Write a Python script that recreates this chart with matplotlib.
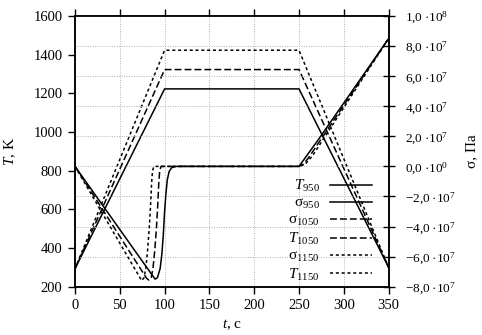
import matplotlib
matplotlib.use("Agg")
import matplotlib.pyplot as plt

plt.rcParams['font.family'] = ['Liberation Serif', 'DejaVu Serif']
plt.rcParams['mathtext.fontset'] = 'custom'
plt.rcParams['mathtext.rm'] = 'Liberation Serif'
plt.rcParams['mathtext.it'] = 'Liberation Serif:italic'

# температура, К
t_temp = [0, 100, 250, 350]
T_950 = [293, 1223, 1223, 300]
T_1050 = [293, 1323, 1323, 300]
T_1150 = [293, 1423, 1423, 300]

# напряжения, Па
t_s950 = [0, 87, 89.5, 92, 95, 97, 98.5, 100, 101.5, 103, 105, 108, 113, 250, 273, 350]
s_950 = [0, -7.3e7, -7.5e7, -7.4e7, -6.8e7, -5.8e7, -4.6e7, -3.0e7, -1.8e7, -0.9e7,
         -0.35e7, -0.08e7, 0, 0, 1.9e7, 8.5e7]
t_s1050 = [0, 80, 82.5, 85, 87, 89, 91, 92.5, 93.5, 94.5, 96, 250, 255, 261, 350]
s_1050 = [0, -7.45e7, -7.56e7, -7.4e7, -6.8e7, -5.6e7, -4.0e7, -2.4e7, -1.1e7, -0.3e7, 0,
          0, 0.15e7, 0.6e7, 8.5e7]
t_s1150 = [0, 72, 74.5, 77, 79, 81, 83, 84.5, 85.5, 86.5, 88, 250, 257, 265, 350]
s_1150 = [0, -7.35e7, -7.6e7, -7.4e7, -6.8e7, -5.6e7, -4.0e7, -2.4e7, -1.1e7, -0.3e7, 0,
          0, 0.15e7, 0.7e7, 8.5e7]

x_ticks = [0, 50, 100, 150, 200, 250, 300, 350]
T_ticks = [200, 400, 600, 800, 1000, 1200, 1400, 1600]
s_ticks = [1.0e8, 8e7, 6e7, 4e7, 2e7, 0, -2e7, -4e7, -6e7, -8e7]
s_tick_labels = ["1,0\u2009·10$^{8}$", "8,0\u2009·10$^{7}$", "6,0\u2009·10$^{7}$",
                 "4,0\u2009·10$^{7}$", "2,0\u2009·10$^{7}$", "0,0\u2009·10$^{0}$",
                 "\u22122,0\u2009·10$^{7}$", "\u22124,0\u2009·10$^{7}$",
                 "\u22126,0\u2009·10$^{7}$", "\u22128,0\u2009·10$^{7}$"]

fig = plt.figure(figsize=(4.82, 3.35), dpi=100)
ax = fig.add_axes([75 / 482, 1 - 286.7 / 335, 313.6 / 482, 270.7 / 335])
ax2 = ax.twinx()

lw = 1.1
dash = (0, (4.5, 2))
dot = (0, (2, 1.8))

l_T950, = ax.plot(t_temp, T_950, color='black', lw=lw, ls='-')
l_T1050, = ax.plot(t_temp, T_1050, color='black', lw=lw, ls=dash)
l_T1150, = ax.plot(t_temp, T_1150, color='black', lw=lw, ls=dot)
l_s950, = ax2.plot(t_s950, s_950, color='black', lw=lw, ls='-')
l_s1050, = ax2.plot(t_s1050, s_1050, color='black', lw=lw, ls=dash)
l_s1150, = ax2.plot(t_s1150, s_1150, color='black', lw=lw, ls=dot)

ax.set_xlim(0, 350)
ax.set_ylim(200, 1600)
ax2.set_ylim(-8e7, 1e8)
ax.set_xticks(x_ticks)
ax.set_yticks(T_ticks)
ax2.set_yticks(s_ticks)
ax2.set_yticklabels(s_tick_labels)

ax.grid(axis='x', color='#b0b0b0', ls=(0, (1, 1.5)), lw=0.7)
ax2.grid(axis='y', color='#b0b0b0', ls=(0, (1, 1.5)), lw=0.7)
ax.set_axisbelow(True)

ax.tick_params(axis='x', top=True, direction='out', length=5, width=1, labelsize=10.5, pad=4)
ax.tick_params(axis='y', direction='out', length=5, width=1, labelsize=10.5, pad=4)
ax2.tick_params(axis='y', direction='inout', length=9, width=1, labelsize=9.5, pad=7)
for a in (ax, ax2):
    for sp in a.spines.values():
        sp.set_linewidth(1.1)

ax.set_xlabel("$t$, c", fontsize=11, labelpad=4)
ax.set_ylabel("$T$, K", fontsize=11, labelpad=11)
ax2.set_ylabel("σ, Па", fontsize=11, labelpad=7)

handles = [l_T950, l_s950, l_s1050, l_T1050, l_s1150, l_T1150]
labels = ["$T_{950}$", "σ$_{950}$", "σ$_{1050}$", "$T_{1050}$", "σ$_{1150}$", "$T_{1150}$"]
ax.legend(handles, labels, loc='lower right', bbox_to_anchor=(0.98, -0.025),
          frameon=False, markerfirst=False, fontsize=11, handlelength=2.7,
          handletextpad=0.7, labelspacing=0.16, borderpad=0.2)

fig.savefig("out.png", dpi=100)
